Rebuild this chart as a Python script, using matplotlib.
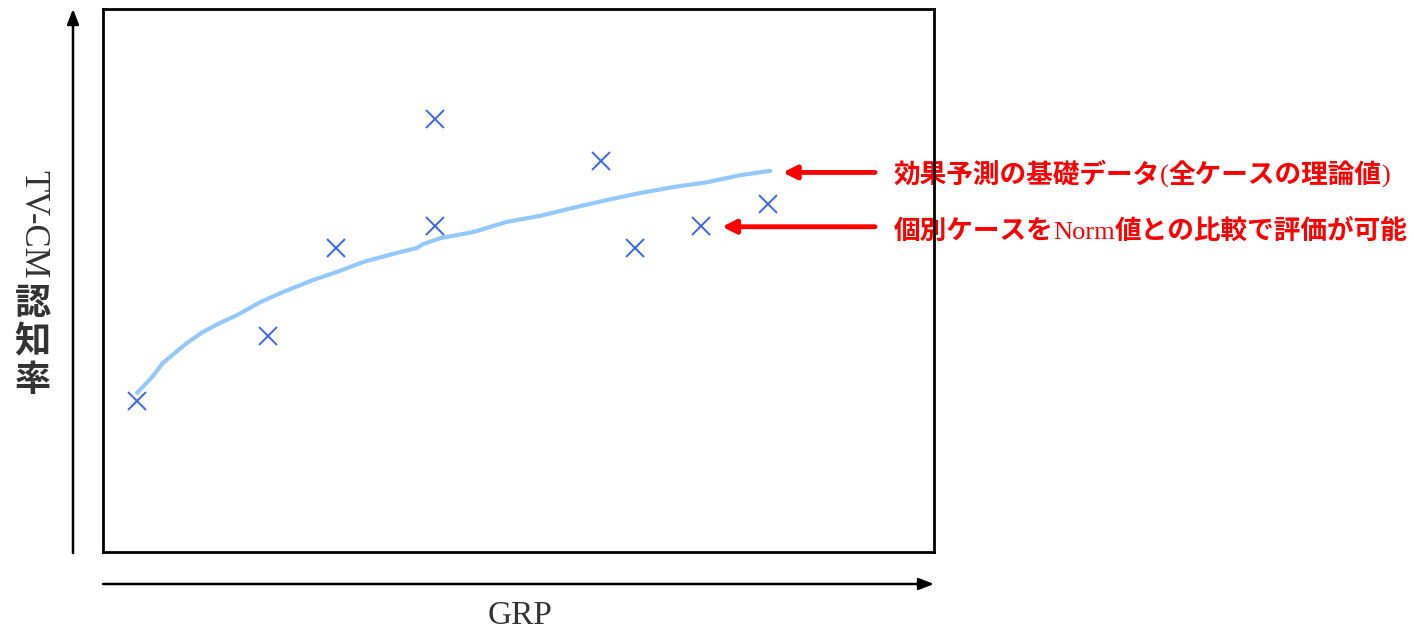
import matplotlib
matplotlib.use("Agg")
import matplotlib.pyplot as plt

plt.rcParams['font.family'] = ['Liberation Serif', 'Noto Sans CJK JP', 'DejaVu Sans']

# Individual campaign results (GRP vs. TV-CM awareness)
case_grp = [4.1, 19.9, 28.0, 40.0, 40.0, 59.9, 64.0, 72.0, 80.0]
case_awareness = [27.8, 39.8, 56.0, 79.7, 60.0, 72.0, 56.0, 60.0, 64.1]

# Norm curve (theoretical value across all cases)
norm_grp = [4.1, 5.9, 7.2, 10.1, 12.0, 14.1, 16.1, 18.9, 21.7, 25.3, 28.2, 31.3,
            34.9, 37.8, 38.5, 40.6, 44.5, 48.6, 52.6, 56.6, 60.6, 64.6, 68.6,
            72.7, 76.7, 80.3]
norm_awareness = [29.3, 32.2, 34.8, 38.5, 40.5, 42.2, 43.6, 46.0, 47.9, 50.1,
                  51.6, 53.4, 54.9, 56.0, 56.7, 57.8, 58.9, 60.8, 61.9, 63.4,
                  64.8, 66.1, 67.2, 68.1, 69.4, 70.2]

x_label = "GRP"
y_label_latin = "TV-CM"
y_label_cjk = "認知率"
note_norm = ["効果予測の基礎データ", "(", "全ケースの理論値", ")"]
note_case = ["個別ケースを", "Norm", "値との比較で評価が可能"]

SERIF = ['Liberation Serif']
CJK = ['Noto Sans CJK JP', 'DejaVu Sans']

fig = plt.figure(figsize=(14.14, 6.33), dpi=100)
ax = fig.add_axes([103 / 1414, 1 - 552 / 633, 831 / 1414, 543 / 633])
ax.set_xlim(0, 100)
ax.set_ylim(0, 100)
ax.set_xticks([])
ax.set_yticks([])
for s in ax.spines.values():
    s.set_linewidth(2)
    s.set_color('black')
    s.set_zorder(5)

ax.plot(norm_grp, norm_awareness, color='#95c8fa', lw=3, solid_capstyle='round', zorder=2)
ax.plot(case_grp, case_awareness, ls='none', marker='x', ms=13, mew=1.4,
        color='#3b66f2', zorder=3)

# Axis direction arrows outside the frame
arrow_kw = dict(arrowstyle='-|>,head_length=0.9,head_width=0.35', color='black', lw=1.8,
                shrinkA=0, shrinkB=0)
ax.annotate('', xy=(73 / 1414, 1 - 9 / 633), xytext=(73 / 1414, 1 - 553 / 633),
            xycoords='figure fraction', textcoords='figure fraction', arrowprops=arrow_kw)
ax.annotate('', xy=(934 / 1414, 1 - 584 / 633), xytext=(103 / 1414, 1 - 584 / 633),
            xycoords='figure fraction', textcoords='figure fraction', arrowprops=arrow_kw)

fig.text(520 / 1414, 1 - 616 / 633, x_label, ha='center', va='center',
         fontsize=24, color='#333333', family=SERIF)

# Vertical axis title: Latin part rotated, kanji stacked upright
fig.text(33 / 1414, 1 - 224 / 633, y_label_latin, ha='center', va='center', rotation=-90,
         fontsize=25, color='#333333', family=SERIF)
for i, ch in enumerate(y_label_cjk):
    fig.text(32.5 / 1414, 1 - (303.5 + 38.5 * i) / 633, ch, ha='center', va='center',
             fontsize=26, color='#333333', fontweight='bold', family=CJK)


def draw_runs(x, y, parts, cjk_size, latin_size):
    """Draw a line of mixed text: CJK runs in bold sans, Latin runs in serif."""
    prev = None
    for part in parts:
        is_latin = all(ord(c) < 128 for c in part)
        kw = dict(fontsize=latin_size if is_latin else cjk_size,
                  family=SERIF if is_latin else CJK,
                  fontweight='normal' if is_latin else 'bold',
                  color='#ff0000', va='baseline', ha='left', zorder=2)
        if prev is None:
            prev = ax.text(x, y, part, clip_on=False, **kw)
        else:
            prev = ax.annotate(part, xy=(1, y), xycoords=(prev, 'data'),
                               annotation_clip=False, **kw)


# Red call-outs
red_kw = dict(arrowstyle='-|>,head_length=0.8,head_width=0.4', color='#ff0000', lw=3.5,
              shrinkA=0, shrinkB=0)
ax.annotate('', xy=(norm_grp[-1] + 1.5, norm_awareness[-1] - 0.3), xytext=(92.9, 69.9),
            arrowprops=red_kw, annotation_clip=False)
ax.annotate('', xy=(case_grp[7] + 2.5, case_awareness[7] - 0.1), xytext=(92.9, 59.9),
            arrowprops=red_kw, annotation_clip=False)
draw_runs(95.1, 68.0, note_norm, 19.2, 19)
draw_runs(95.1, 57.6, note_case, 19.2, 19)

fig.savefig('out.png', dpi=100)
